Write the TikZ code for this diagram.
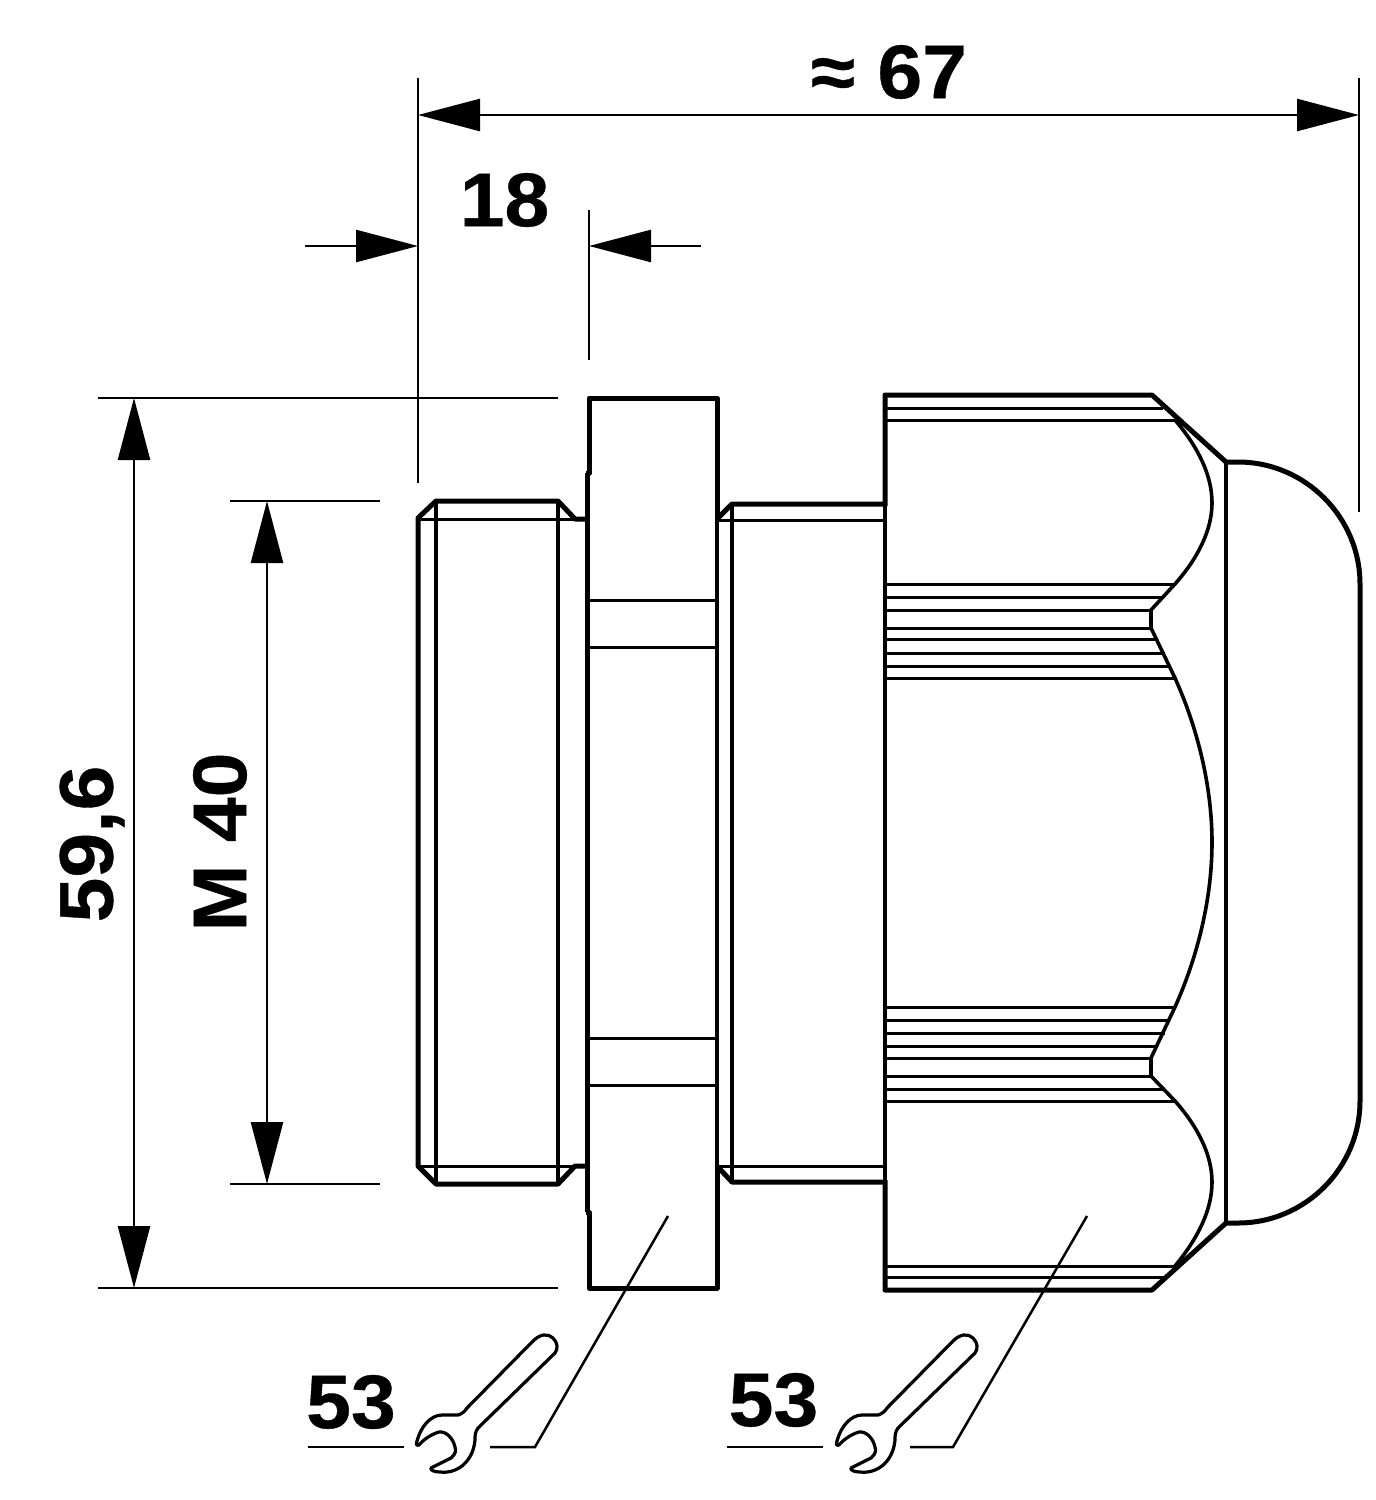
\documentclass[tikz,border=0pt]{standalone}
\usepackage{fontspec}
\setmainfont[FakeStretch=1.06,BoldFeatures={FakeBold=0.5}]{Liberation Sans}
\usetikzlibrary{arrows.meta}
\tikzset{ dim_line/.style = {line width=1.25pt} }
\tikzset{ edge_thick/.style = {line width=2.5pt, line join=round} }
\tikzset{ edge_mid/.style = {line width=1.8pt} }
\tikzset{ edge_thin/.style = {line width=1.5pt} }
\tikzset{ dim_label/.style = {inner sep=0pt, font=\fontsize{38}{38}\selectfont\bfseries} }
\tikzset{ pics/wrench/.style = {code={
        \draw[line width=1.6pt, line join=round] (533,1341) .. controls (540,1334) and (548,1333) .. (553,1338)
                .. controls (558,1343) and (558,1349) .. (555,1353) -- (478,1428)
                .. controls (475,1432) and (475,1436) .. (475,1440)
                .. controls (473,1462) and (457,1474) .. (440,1472)
                .. controls (434,1472) and (430,1470) .. (431,1468) -- (451,1458)
                .. controls (456,1454) and (456,1450) .. (455,1447)
                .. controls (453,1438) and (446,1431) .. (439,1432)
                .. controls (432,1434) and (424,1439) .. (419,1445)
                .. controls (416,1446) and (416,1444) .. (417,1441)
                .. controls (421,1426) and (431,1415) .. (442,1415) -- (458,1415)
                .. controls (462,1414) and (465,1411) .. (467,1408) -- cycle;
        }} }

\begin{document}
\begin{tikzpicture}[x=0.5pt, y=-0.5pt, >={Triangle[length=31pt,width=16pt]}]
        \useasboundingbox (0,0) rectangle (1376,1500);
        % dimension ends
        \coordinate (w_l) at (418,115);
        \coordinate (w_r) at (1359,115);
        \coordinate (s_a) at (305,246);
        \coordinate (s_l) at (418,246);
        \coordinate (s_r) at (589,246);
        \coordinate (s_b) at (701,246);
        \coordinate (h_t) at (134,398);
        \coordinate (h_b) at (134,1288);
        \coordinate (m_t) at (267,501);
        \coordinate (m_b) at (267,1184);
        \draw[dim_line, <->] (w_l) to (w_r);
        \draw[dim_line, ->] (s_a) to (s_l);
        \draw[dim_line, ->] (s_b) to (s_r);
        \draw[dim_line, <->] (h_t) to (h_b);
        \draw[dim_line, <->] (m_t) to (m_b);
        % extension lines
        \draw[dim_line] (418,78) -- (418,483);
        \draw[dim_line] (1359,78) -- (1359,512);
        \draw[dim_line] (589,210) -- (589,360);
        \draw[dim_line] (98,398) -- (558,398);
        \draw[dim_line] (98,1288) -- (558,1288);
        \draw[dim_line] (230,501) -- (380,501);
        \draw[dim_line] (230,1184) -- (380,1184);
        % thread
        \draw[edge_thick] (585,519) -- (575,519) -- (558,501) -- (436,501) -- (418,518) -- (418,1166) -- (436,1184) -- (558,1184) -- (575,1166) -- (585,1166);
        \draw[edge_thin] (418,519) -- (585,519);
        \draw[edge_thin] (418,1166) -- (585,1166);
        \draw[edge_mid] (436,501) -- (436,1184);
        \draw[edge_mid] (558,501) -- (558,1184);
        \draw[edge_thin] (436,501) -- (418,519);
        \draw[edge_thin] (436,1184) -- (418,1166);
        % flange
        \draw[edge_thick] (586,473) -- (589,473) -- (589,398) -- (717,398) -- (717,520);
        \draw[edge_thick] (586,1212) -- (589,1212) -- (589,1288) -- (717,1288) -- (717,1165);
        \draw[edge_thick] (587,473) -- (587,1212);
        \draw[edge_mid] (717,520) -- (717,1165);
        \draw[edge_thin] (589,600) -- (717,600);
        \draw[edge_thin] (589,647) -- (717,647);
        \draw[edge_thin] (589,1038) -- (717,1038);
        \draw[edge_thin] (589,1085) -- (717,1085);
        % neck
        \draw[edge_thick] (717,519) -- (732,504) -- (885,504);
        \draw[edge_thick] (717,1166) -- (732,1182) -- (885,1182);
        \draw[edge_thin] (717,520) -- (885,520);
        \draw[edge_thin] (717,1166) -- (885,1166);
        \draw[edge_mid] (732,504) -- (732,1182);
        % nut
        \draw[edge_thick] (885,506) -- (885,395) -- (1152,395) -- (1226,462);
        \draw[edge_thick] (885,1180) -- (885,1290) -- (1152,1290) -- (1226,1223);
        \draw[edge_mid] (885,506) -- (885,1180);
        \foreach \y/\x in {408/1163, 420/1175, 584/1175, 597/1163, 610/1152, 628/1152, 639/1158, 653/1165, 666/1170, 678/1175,
                        1007/1175, 1020/1170, 1033/1165, 1046/1158, 1058/1152, 1076/1152, 1089/1163, 1101/1175, 1266/1175, 1277/1163}
                \draw[edge_thin] (885,\y) -- (\x,\y);
        \draw[edge_mid] (1175,420) .. controls (1198,447) and (1212,475) .. (1212,503) .. controls (1212,530) and (1198,558) .. (1175,584) -- (1151,610) -- (1151,628) -- (1175,678)
                .. controls (1197,727) and (1212,785) .. (1212,842.5) .. controls (1212,900) and (1197,958) .. (1175,1007) -- (1151,1058) -- (1151,1076) -- (1175,1101)
                .. controls (1198,1127) and (1212,1155) .. (1212,1182) .. controls (1212,1210) and (1198,1238) .. (1175,1266);
        % dome
        \draw[edge_thick] (1226,462) -- (1238,462) .. controls (1305,462) and (1360,517) .. (1360,584) -- (1360,1101) .. controls (1360,1168) and (1305,1223) .. (1238,1223) -- (1226,1223);
        \draw[edge_mid] (1226,462) -- (1226,1223);
        % leaders
        \coordinate (l1_s) at (490,1447);
        \coordinate (l1_k) at (535,1447);
        \coordinate (l1_e) at (668,1216);
        \coordinate (l2_s) at (910,1447);
        \coordinate (l2_k) at (953,1447);
        \coordinate (l2_e) at (1087,1216);
        \draw[dim_line] (l1_s) to (l1_k) to (l1_e);
        \draw[dim_line] (l2_s) to (l2_k) to (l2_e);
        \draw[dim_line] (308,1447) -- (404,1447);
        \draw[dim_line] (727,1447) -- (823,1447);
        \pic at (0,0) {wrench};
        \pic at (420,0) {wrench};
        % labels
        \node[dim_label] (len_all) at (889,72) {≈ 67};
        \node[dim_label] (len_thread) at (504.5,200) {18};
        \node[dim_label, rotate=90] (dia_all) at (92,844) {59,6};
        \node[dim_label, rotate=90] (dia_thread) at (220,842) {M 40};
        \node[dim_label] (key_a) at (351,1402) {53};
        \node[dim_label] (key_b) at (773.5,1400) {53};
\end{tikzpicture}
\end{document}
